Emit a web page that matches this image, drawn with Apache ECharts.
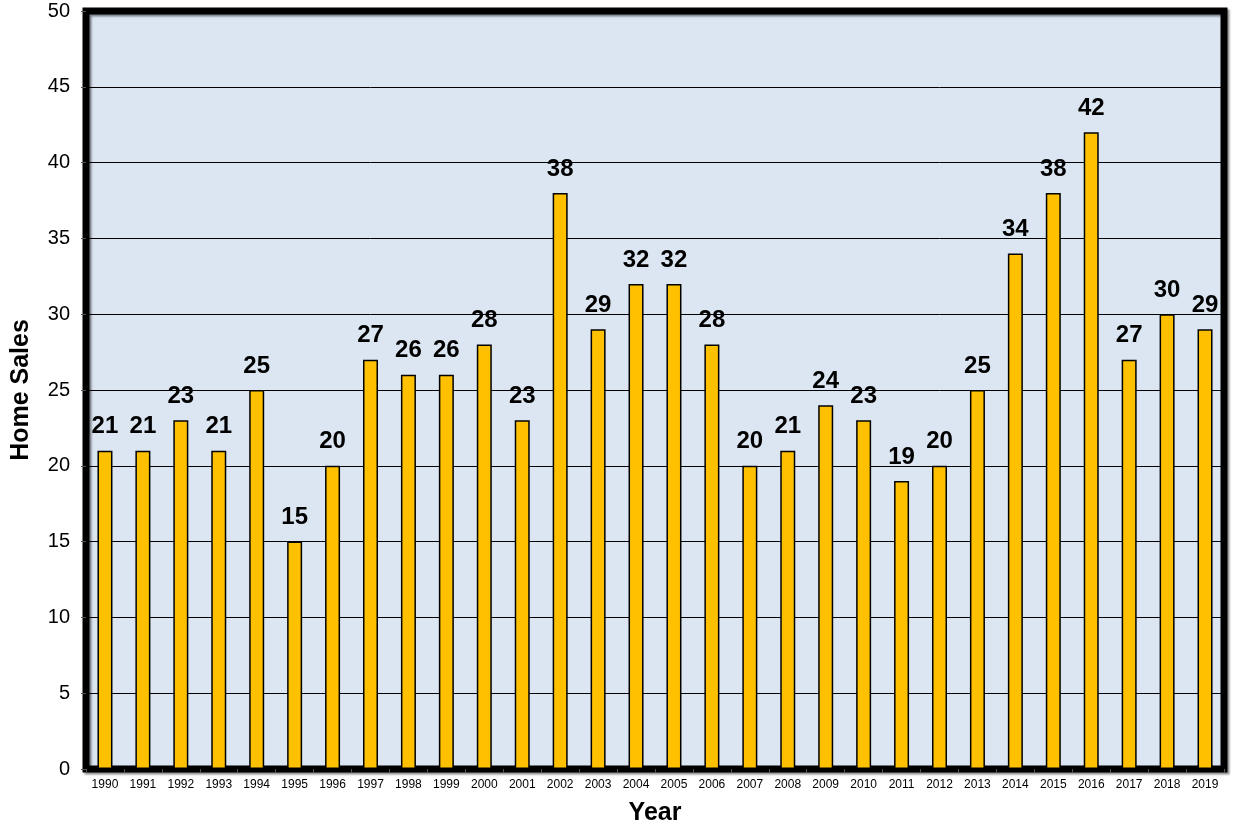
<!DOCTYPE html>
<html>
<head>
<meta charset="utf-8">
<script src="https://cdn.jsdelivr.net/npm/echarts@6/dist/echarts.min.js"></script>
<style>
  html, body { margin: 0; padding: 0; background: #fff; }
  #chart { width: 1235px; height: 824px; }
</style>
</head>
<body>
<div id="chart"></div>
<script>
const years = ['1990', '1991', '1992', '1993', '1994', '1995', '1996', '1997', '1998', '1999',
  '2000', '2001', '2002', '2003', '2004', '2005', '2006', '2007', '2008', '2009',
  '2010', '2011', '2012', '2013', '2014', '2015', '2016', '2017', '2018', '2019']
const homeSales = [21, 21, 23, 21, 25, 15, 20, 27, 26, 26,
  28, 23, 38, 29, 32, 32, 28, 20, 21, 24,
  23, 19, 20, 25, 34, 38, 42, 27, 30, 29]

const chart = echarts.init(document.getElementById('chart'), null, { width: 1235, height: 824 })

chart.setOption({
  animation: false,
  textStyle: { fontFamily: 'Liberation Sans, Arial, sans-serif' },
  grid: {
    left: 86,
    right: 11,
    top: 11,
    bottom: 55,
    outerBoundsMode: 'none',
    show: true,
    backgroundColor: '#DCE6F2',
    borderColor: '#000',
    borderWidth: 7,
    shadowColor: 'rgba(0,0,0,0.45)',
    shadowOffsetX: 2,
    shadowOffsetY: 2,
    shadowBlur: 2,
  },
  xAxis: {
    type: 'category',
    data: years,
    name: 'Year',
    nameLocation: 'middle',
    nameGap: 32,
    nameTextStyle: { color: '#000', fontSize: 25, fontWeight: 'bold' },
    axisLine: { show: false },
    axisTick: { show: true, length: 4, lineStyle: { color: '#555' } },
    axisLabel: { color: '#000', fontSize: 12, margin: 10 },
  },
  yAxis: {
    type: 'value',
    min: 0,
    max: 50,
    interval: 5,
    name: 'Home Sales',
    nameLocation: 'middle',
    nameGap: 52,
    nameTextStyle: { color: '#000', fontSize: 25, fontWeight: 'bold' },
    axisLine: { show: false },
    axisTick: { show: true, length: 5, lineStyle: { color: '#555' } },
    axisLabel: { color: '#000', fontSize: 20, margin: 16 },
    splitLine: { lineStyle: { color: '#000', width: 1 } },
  },
  series: [
    {
      type: 'bar',
      data: homeSales,
      barWidth: 15,
      itemStyle: { color: '#FFC000', borderColor: '#000', borderWidth: 1.5 },
      label: {
        show: true,
        position: 'top',
        distance: 12,
        color: '#000',
        fontSize: 24,
        fontWeight: 'bold',
      },
    },
  ],
})
</script>
</body>
</html>
